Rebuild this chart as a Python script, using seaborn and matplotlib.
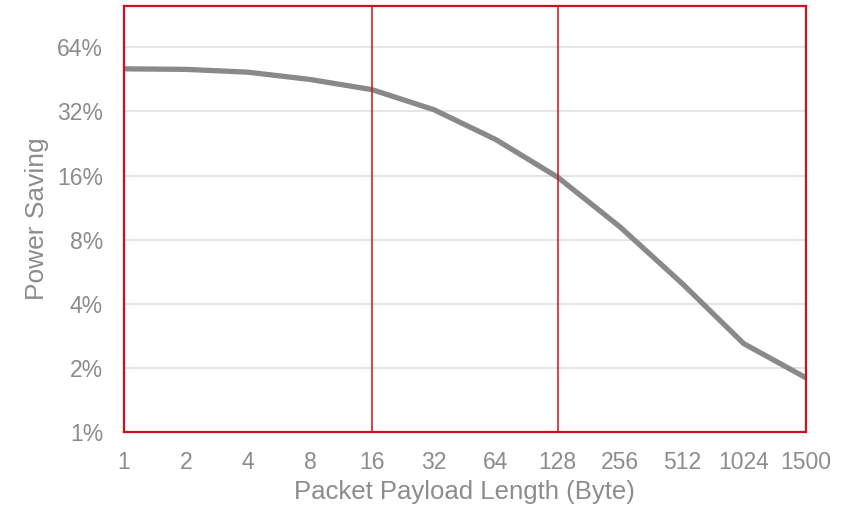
import matplotlib.pyplot as plt
import matplotlib.ticker as mticker
import seaborn as sns
import numpy as np
import pandas as pd

sns.set_theme(style="white")
plt.rcParams['font.family'] = ['Liberation Sans', 'DejaVu Sans']

# 데이터
payload_labels = ['1', '2', '4', '8', '16', '32', '64', '128', '256', '512', '1024', '1500']
power_saving = [0.507, 0.504, 0.489, 0.452, 0.405, 0.326, 0.236, 0.157, 0.092, 0.050, 0.026, 0.018]
y_ticks = [0.01, 0.02, 0.04, 0.08, 0.16, 0.32, 0.64]
marker_payloads = ['16', '128']

TEXT_COLOR = '#8c8c8c'
RED = '#d0101c'

df = pd.DataFrame({'pos': np.arange(len(payload_labels)), 'saving': power_saving})

fig = plt.figure(figsize=(8.49, 5.08), dpi=100)
ax = fig.add_axes([0.146, 0.1496, 0.803, 0.8386])

sns.lineplot(data=df, x='pos', y='saving', ax=ax, color='#898989', linewidth=3.8)

ax.set_yscale('log', base=2)
ax.set_ylim(0.01, 1.0)
ax.set_xlim(0, len(payload_labels) - 1)
ax.set_yticks(y_ticks)
ax.yaxis.set_major_formatter(mticker.FuncFormatter(lambda v, p: f"{v * 100:.0f}%"))
ax.yaxis.set_minor_locator(mticker.NullLocator())
ax.set_xticks(df['pos'])
ax.set_xticklabels(payload_labels)

# 가로 그리드
ax.grid(axis='y', color='#e3e3e3', linewidth=1.3)
ax.grid(axis='x', visible=False)
ax.set_axisbelow(True)

# 빨간 세로선 (16, 128)
for lab in marker_payloads:
    ax.axvline(payload_labels.index(lab), color=RED, linewidth=1.1)

for sp in ax.spines.values():
    sp.set_color(RED)
    sp.set_linewidth(1.6)

ax.tick_params(axis='both', length=0, labelsize=16.5, colors=TEXT_COLOR)
ax.tick_params(axis='y', pad=15)
ax.tick_params(axis='x', pad=14)
ax.set_xlabel('Packet Payload Length (Byte)', fontsize=18.5, color=TEXT_COLOR, labelpad=4)
ax.set_ylabel('Power Saving', fontsize=19, color=TEXT_COLOR, labelpad=6)

plt.savefig('out.png', dpi=100)
